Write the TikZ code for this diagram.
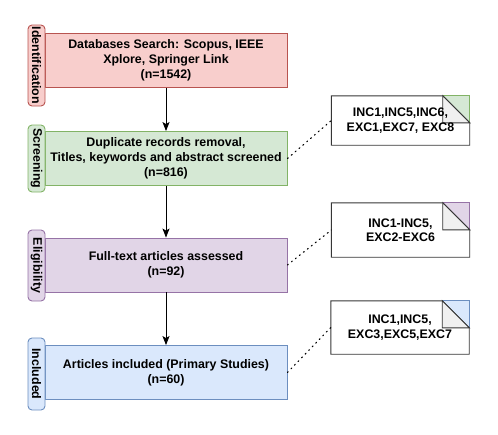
\documentclass[tikz,border=0pt]{standalone}
\usepackage{fontspec}
\setmainfont{Liberation Sans}
\usetikzlibrary{arrows.meta,backgrounds}
\definecolor{fillred}{HTML}{F8CECC}\definecolor{linered}{HTML}{B85450}
\definecolor{fillgreen}{HTML}{D5E8D4}\definecolor{linegreen}{HTML}{82B366}
\definecolor{fillpurple}{HTML}{E1D5E7}\definecolor{linepurple}{HTML}{9673A6}
\definecolor{fillblue}{HTML}{DAE8FC}\definecolor{lineblue}{HTML}{6C8EBF}
\definecolor{foldgray}{HTML}{F0F0F0}\definecolor{notegray}{HTML}{363636}
\tikzset{
  lbl/.style={font=\bfseries\fontsize{12.4}{15}\selectfont},
  stagebox/.style={lbl,draw,line width=0.9pt,minimum width=242pt,minimum height=54pt,align=center,inner sep=0pt},
  stagetab/.style={lbl,draw,line width=0.9pt,rounded corners=4pt,minimum height=17pt,inner sep=0pt,rotate=-90},
  notebox/.style={lbl,minimum width=138pt,align=center,inner sep=0pt,font=\bfseries\fontsize{12.4}{14.5}\selectfont},
  flow/.style={-{Stealth[length=9pt,width=7pt,inset=2pt]},line width=0.9pt},
  hint/.style={line width=1.1pt,dash pattern=on 1.1pt off 4pt,line cap=round}
}
\begin{document}
\begin{tikzpicture}[x=1pt,y=-1pt]
\useasboundingbox (0,0) rectangle (498,434);
\pgfmathsetmacro{\f}{27}
% stages
\node[stagebox,fill=fillred,draw=linered] (ident) at (166,60.5) {Databases Search: Scopus, IEEE\\Xplore, Springer Link\\(n=1542)};
\node[stagebox,fill=fillgreen,draw=linegreen] (scr) at (166,158.5) {Duplicate records removal,\\Titles, keywords and abstract screened\\(n=816)};
\node[stagebox,fill=fillpurple,draw=linepurple] (elig) at (166,265) {Full-text articles assessed\\(n=92)};
\node[stagebox,fill=fillblue,draw=lineblue] (incl) at (166,372.5) {Articles included (Primary Studies)\\(n=60)};
% side tabs
\node[stagetab,fill=fillred,draw=linered,minimum width=81pt] (identtab) at (36.5,65.5) {Identification};
\node[stagetab,fill=fillgreen,draw=linegreen,minimum width=67pt] (scrtab) at (36.5,158.5) {Screening};
\node[stagetab,fill=fillpurple,draw=linepurple,minimum width=71pt] (eligtab) at (36.5,265.5) {Eligibility};
\node[stagetab,fill=fillblue,draw=lineblue,minimum width=72pt] (incltab) at (36.5,374) {Included};
% criteria notes
\node[notebox,minimum height=49pt] (scrnote) at (400.5,120.5) {INC1,INC5,INC6,\\EXC1,EXC7, EXC8};
\node[notebox,minimum height=54pt] (elignote) at (400.5,230) {INC1-INC5,\\EXC2-EXC6};
\node[notebox,minimum height=53pt] (inclnote) at (400,327.5) {INC1,INC5,\\EXC3,EXC5,EXC7};
\begin{scope}[on background layer]
\foreach \n/\c in {scrnote/green,elignote/purple,inclnote/blue}{\fill[fill\c]([xshift=-\f pt]\n.north east)--(\n.north east)--([yshift=-\f pt]\n.north east)--cycle;\draw[line\c,line width=0.9pt]([xshift=-\f pt]\n.north east)--(\n.north east)--([yshift=-\f pt]\n.north east);
\draw[notegray,line width=0.9pt]([xshift=-\f pt]\n.north east)--(\n.north west)--(\n.south west)--(\n.south east)--([yshift=-\f pt]\n.north east)--cycle;\filldraw[fill=foldgray,draw=notegray,line width=0.9pt]([xshift=-\f pt]\n.north east)--([xshift=-\f pt,yshift=-\f pt]\n.north east)--([yshift=-\f pt]\n.north east)--cycle;}
\end{scope}
% connectors
\draw[flow] (ident.south) -- (scr.north);
\draw[flow] (scr.south) -- (elig.north);
\draw[flow] (elig.south) -- (incl.north);
\draw[hint] (scr.east) -- (scrnote.west);
\draw[hint] (elig.east) -- (elignote.west);
\draw[hint] (incl.east) -- (inclnote.west);
\end{tikzpicture}
\end{document}
